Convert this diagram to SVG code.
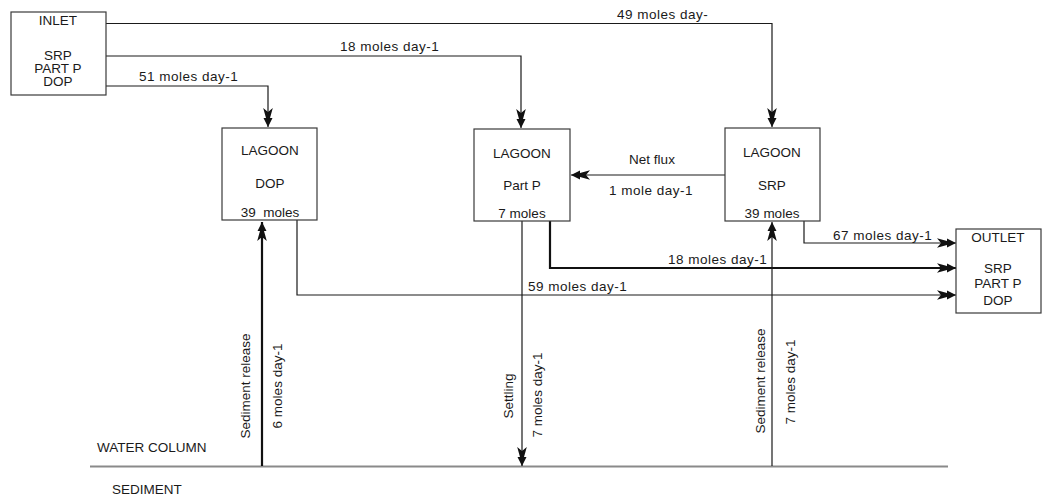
<svg xmlns="http://www.w3.org/2000/svg" width="1042" height="497" viewBox="0 0 1042 497">
  <style>
    text { font-family: "Liberation Sans", Arial, sans-serif; font-size: 13.5px; fill: #1a1a1a; }
    .mid { text-anchor: middle; }
    .lbl { letter-spacing: 0.5px; }
    .box { fill: #ffffff; stroke: #3a3a3a; stroke-width: 1.2; }
    .flow { fill: none; stroke: #1a1a1a; stroke-width: 1.2; }
    .heavy { fill: none; stroke: #111111; stroke-width: 2.2; }
    .ground { fill: none; stroke: #8a8a8a; stroke-width: 2; }
  </style>
  <defs>
    <!-- barbed arrowhead, tip at the path end -->
    <marker id="barb" viewBox="-20 -6 22 12" refX="0" refY="0" markerWidth="22" markerHeight="12" markerUnits="userSpaceOnUse" orient="auto">
      <path d="M0,0 L-9,-4.5 L-9,-2 L-19,-4.8 L-15,0 L-19,4.8 L-9,2 L-9,4.5 Z" fill="#111111"/>
    </marker>
  </defs>

  <!-- water column / sediment boundary -->
  <g id="boundary">
    <line class="ground" x1="90" y1="466.5" x2="948" y2="466.5"/>
    <text x="97" y="452">WATER COLUMN</text>
    <text x="112" y="494">SEDIMENT</text>
  </g>

  <g id="connectors">
    <!-- inlet to lagoon pools -->
    <polyline class="flow" points="106,23.5 772,23.5 772,127" marker-end="url(#barb)"/>
    <text class="lbl" x="617" y="19">49 moles day-</text>
    <polyline class="flow" points="106,56 521,56 521,128" marker-end="url(#barb)"/>
    <text class="lbl" x="340" y="51">18 moles day-1</text>
    <polyline class="flow" points="106,86 268,86 268,127" marker-end="url(#barb)"/>
    <text class="lbl" x="139" y="81">51 moles day-1</text>

    <!-- exchange between SRP and particulate P -->
    <line class="flow" x1="725" y1="175" x2="571" y2="175" marker-end="url(#barb)"/>
    <text class="mid" x="652" y="164">Net flux</text>
    <text class="mid lbl" x="651" y="195">1 mole day-1</text>

    <!-- lagoon pools to outlet -->
    <polyline class="flow" points="804,221 804,243 956,243" marker-end="url(#barb)"/>
    <text class="lbl" x="833" y="240">67 moles day-1</text>
    <polyline class="heavy" points="550,221 550,268 956,268" marker-end="url(#barb)"/>
    <text class="lbl" x="668" y="264">18 moles day-1</text>
    <polyline class="flow" points="297,220 297,295 956,295" marker-end="url(#barb)"/>
    <text class="lbl" x="528" y="291">59 moles day-1</text>

    <!-- sediment exchanges -->
    <line class="heavy" x1="262" y1="466" x2="262" y2="222" marker-end="url(#barb)"/>
    <text class="mid" transform="translate(250,386) rotate(-90)">Sediment release</text>
    <text class="mid" transform="translate(282,386) rotate(-90)">6 moles day-1</text>

    <line class="flow" x1="522" y1="221" x2="522" y2="466" marker-end="url(#barb)"/>
    <text class="mid" transform="translate(513,396) rotate(-90)">Settling</text>
    <text class="mid" transform="translate(542,395) rotate(-90)">7 moles day-1</text>

    <line class="flow" x1="772" y1="466" x2="772" y2="222" marker-end="url(#barb)"/>
    <text class="mid" transform="translate(765,381) rotate(-90)">Sediment release</text>
    <text class="mid" transform="translate(795,382) rotate(-90)">7 moles day-1</text>
  </g>

  <g id="inlet">
    <rect class="box" x="11" y="12" width="95" height="83"/>
    <text class="mid" x="58" y="25">INLET</text>
    <text class="mid" x="58" y="60">SRP</text>
    <text class="mid" x="58" y="73">PART P</text>
    <text class="mid" x="58" y="86">DOP</text>
  </g>

  <g id="lagoon-dop">
    <rect class="box" x="222" y="128" width="95" height="92"/>
    <text class="mid" x="270" y="155">LAGOON</text>
    <text class="mid" x="270" y="188">DOP</text>
    <text class="mid" x="270" y="217" xml:space="preserve">39  moles</text>
  </g>

  <g id="lagoon-partp">
    <rect class="box" x="474" y="129" width="96" height="92"/>
    <text class="mid" x="522" y="158">LAGOON</text>
    <text class="mid" x="522" y="190">Part P</text>
    <text class="mid" x="522" y="218">7 moles</text>
  </g>

  <g id="lagoon-srp">
    <rect class="box" x="725" y="128" width="95" height="93"/>
    <text class="mid" x="772" y="157">LAGOON</text>
    <text class="mid" x="772" y="190">SRP</text>
    <text class="mid" x="772" y="218">39 moles</text>
  </g>

  <g id="outlet">
    <rect class="box" x="956" y="229" width="85" height="84"/>
    <text class="mid" x="998" y="242">OUTLET</text>
    <text class="mid" x="998" y="273">SRP</text>
    <text class="mid" x="998" y="288">PART P</text>
    <text class="mid" x="998" y="305">DOP</text>
  </g>
</svg>
